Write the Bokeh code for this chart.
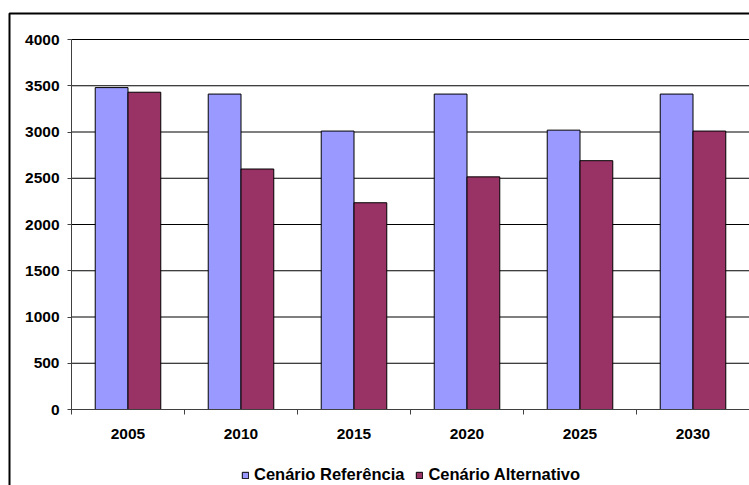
from bokeh.plotting import figure
from bokeh.models import (ColumnDataSource, Range1d, FixedTicker, Legend, LegendItem,
                          BoxAnnotation)
from bokeh.embed import file_html
from bokeh.resources import INLINE

# Data
years = ["2005", "2010", "2015", "2020", "2025", "2030"]
referencia = [3480, 3410, 3010, 3410, 3020, 3410]
alternativo = [3430, 2600, 2235, 2515, 2690, 3010]
y_ticks = [0, 500, 1000, 1500, 2000, 2500, 3000, 3500, 4000]

FONT = "Liberation Sans"
BLUE = "#9999FF"
WINE = "#993366"
AXIS = "#404040"
BAR_W = 0.29
W, H = 749, 485

# The whole canvas is the data frame; the plotting area spans
# x 0..6 (categories) and y 0..4000, with room around it for labels.
PX_X = 113.0            # pixels per category
PX_Y = 370.0 / 4000     # pixels per unit
LEFT, TOP, BOTTOM = 71, 39, 409
x_lo = -LEFT / PX_X
x_hi = x_lo + W / PX_X
y_hi = 4000 + TOP / PX_Y
y_lo = -(H - BOTTOM) / PX_Y

centers = [i + 0.5 for i in range(len(years))]
src = ColumnDataSource(dict(
    x_ref=[c - BAR_W / 2 for c in centers],
    x_alt=[c + BAR_W / 2 for c in centers],
    ref=referencia,
    alt=alternativo,
))

p = figure(width=W, height=H, output_backend="svg", toolbar_location=None,
           x_range=Range1d(x_lo, x_hi), y_range=Range1d(y_lo, y_hi),
           min_border=0)
p.outline_line_color = None
p.background_fill_color = "white"
p.border_fill_color = "white"
p.xgrid.grid_line_color = None
p.ygrid.grid_line_color = None

# horizontal gridlines across the plotting area
p.segment(x0=0, x1=x_hi, y0=y_ticks, y1=y_ticks, line_color="black", line_width=1)

r_ref = p.vbar(x="x_ref", top="ref", width=BAR_W, source=src,
               fill_color=BLUE, line_color="black", line_width=1)
r_alt = p.vbar(x="x_alt", top="alt", width=BAR_W, source=src,
               fill_color=WINE, line_color="black", line_width=1)

# y axis, pinned at the left edge of the plotting area
yax = p.yaxis[0]
yax.fixed_location = 0
yax.bounds = (0, 4000)
yax.ticker = FixedTicker(ticks=y_ticks)
yax.major_label_text_font = FONT
yax.major_label_text_font_style = "bold"
yax.major_label_text_font_size = "15.5px"
yax.major_label_text_color = "black"
yax.major_tick_out = 4
yax.major_tick_in = 0
yax.minor_tick_line_color = None
yax.major_label_standoff = 8
yax.axis_line_color = AXIS
yax.major_tick_line_color = AXIS

# x axis: labels at category centres, tick marks at category boundaries
xax = p.xaxis[0]
xax.fixed_location = 0
xax.bounds = (0, len(years))
xax.ticker = FixedTicker(ticks=centers, minor_ticks=list(range(len(years) + 1)))
xax.major_label_overrides = {c: y for c, y in zip(centers, years)}
xax.major_tick_out = 0
xax.major_tick_in = 0
xax.minor_tick_out = 5
xax.minor_tick_in = 0
xax.minor_tick_line_color = AXIS
xax.axis_line_color = AXIS
xax.major_label_text_font = FONT
xax.major_label_text_font_style = "bold"
xax.major_label_text_font_size = "15.5px"
xax.major_label_text_color = "black"
xax.major_label_standoff = 14

legend = Legend(items=[LegendItem(label="Cenário Referência", renderers=[r_ref]),
                       LegendItem(label="Cenário Alternativo", renderers=[r_alt])],
                orientation="horizontal", location=(241, 1),
                glyph_width=8, glyph_height=8, label_standoff=5, spacing=11,
                padding=0, margin=0, border_line_color=None,
                background_fill_alpha=0,
                label_text_font=FONT, label_text_font_style="bold",
                label_text_font_size="16.5px", label_text_color="black")
p.add_layout(legend, "center")

# chart area border (left and top edges fall inside the page);
# screen y runs upward from the bottom of the canvas
p.add_layout(BoxAnnotation(left=9, right=W + 20, top=H - 13, bottom=-20,
                           left_units="screen", right_units="screen",
                           top_units="screen", bottom_units="screen",
                           fill_alpha=0, line_color="black", line_alpha=1,
                           line_width=2))

open("out.html", "w").write(file_html(p, INLINE))
